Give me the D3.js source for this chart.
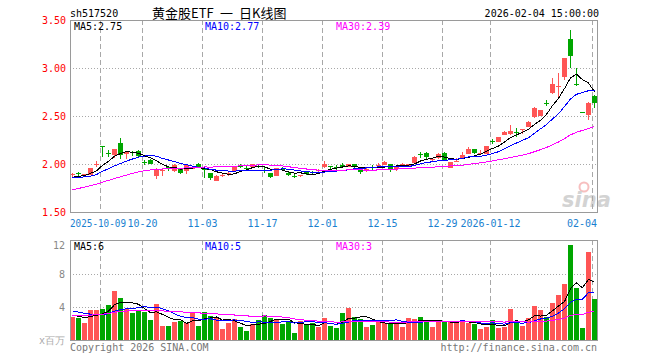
<!DOCTYPE html>
<html><head><meta charset="utf-8">
<script src="https://cdn.jsdelivr.net/npm/d3@7"></script>
<style>
html,body{margin:0;padding:0;background:#fff;}
svg{display:block;}
text{font-family:"DejaVu Sans Mono",monospace;font-size:10px;}
</style></head><body>
<svg id="c" width="660" height="360"></svg>
<script>
// ---------- data ----------
const dates = [
 "2025-09-24","2025-09-25","2025-09-26","2025-09-29","2025-09-30",
 "2025-10-09","2025-10-10","2025-10-13","2025-10-14","2025-10-15","2025-10-16","2025-10-17",
 "2025-10-20","2025-10-21","2025-10-22","2025-10-23","2025-10-24",
 "2025-10-27","2025-10-28","2025-10-29","2025-10-30","2025-10-31",
 "2025-11-03","2025-11-04","2025-11-05","2025-11-06","2025-11-07",
 "2025-11-10","2025-11-11","2025-11-12","2025-11-13","2025-11-14",
 "2025-11-17","2025-11-18","2025-11-19","2025-11-20","2025-11-21",
 "2025-11-24","2025-11-25","2025-11-26","2025-11-27","2025-11-28",
 "2025-12-01","2025-12-02","2025-12-03","2025-12-04","2025-12-05",
 "2025-12-08","2025-12-09","2025-12-10","2025-12-11","2025-12-12",
 "2025-12-15","2025-12-16","2025-12-17","2025-12-18","2025-12-19",
 "2025-12-22","2025-12-23","2025-12-24","2025-12-25","2025-12-26",
 "2025-12-29","2025-12-30","2025-12-31",
 "2026-01-05","2026-01-06","2026-01-07","2026-01-08","2026-01-09",
 "2026-01-12","2026-01-13","2026-01-14","2026-01-15","2026-01-16",
 "2026-01-19","2026-01-20","2026-01-21","2026-01-22","2026-01-23",
 "2026-01-26","2026-01-27","2026-01-28","2026-01-29","2026-01-30",
 "2026-02-02","2026-02-03","2026-02-04"
];
const open = [
 1.89,1.902,1.885,1.89,1.995,2.185,2.115,2.095,2.22,2.10,
 2.12,2.14,2.018,2.042,1.878,1.935,1.97,1.925,1.945,1.927,
 1.952,2.0,1.948,1.903,1.826,1.882,1.90,1.927,1.982,1.958,
 1.972,1.982,1.94,1.905,1.878,1.947,1.91,1.878,1.876,1.912,
 1.914,1.934,1.965,1.98,1.968,1.99,1.972,2.0,1.955,1.942,
 1.968,1.988,1.99,2.0,1.944,1.998,1.98,2.01,2.104,2.118,
 2.046,2.059,2.11,1.962,2.03,2.066,2.108,2.153,2.108,2.108,
 2.236,2.23,2.302,2.31,2.33,2.35,2.39,2.49,2.50,2.634,
 2.736,2.805,2.903,3.30,2.83,2.54,2.51,2.71
];
const high = [
 1.91,1.915,1.90,1.96,2.03,2.188,2.145,2.16,2.27,2.13,
 2.14,2.15,2.04,2.055,1.96,1.955,1.975,1.995,1.95,1.99,
 1.965,2.01,1.97,1.905,1.89,1.90,1.92,1.975,2.0,1.975,
 2.005,2.0,1.965,1.91,1.96,1.965,1.915,1.90,1.89,1.92,
 1.93,1.95,2.03,1.982,1.99,2.015,2.005,2.005,1.96,1.96,
 1.99,2.01,2.03,2.005,1.985,2.015,2.005,2.08,2.12,2.125,
 2.065,2.11,2.125,2.025,2.06,2.12,2.18,2.16,2.15,2.19,
 2.26,2.285,2.345,2.41,2.37,2.368,2.45,2.59,2.565,2.665,
 2.90,2.95,3.10,3.396,3.0,2.54,2.65,2.715
];
const low = [
 1.868,1.875,1.878,1.885,1.97,2.075,2.075,2.06,2.05,2.05,
 2.08,2.07,1.99,1.995,1.845,1.88,1.93,1.92,1.895,1.90,
 1.945,1.96,1.85,1.83,1.82,1.86,1.88,1.92,1.955,1.94,
 1.965,1.955,1.905,1.85,1.875,1.93,1.88,1.85,1.865,1.89,
 1.89,1.91,1.96,1.937,1.94,1.96,1.965,1.945,1.896,1.92,
 1.94,1.97,1.985,1.92,1.93,1.975,1.975,2.0,2.06,2.055,
 2.03,2.05,2.03,1.955,2.02,2.06,2.10,2.105,2.10,2.105,
 2.205,2.225,2.30,2.305,2.28,2.31,2.385,2.48,2.495,2.60,
 2.73,2.70,2.875,3.0,2.815,2.54,2.455,2.58
];
const close = [
 1.895,1.898,1.895,1.955,2.002,2.18,2.11,2.155,2.095,2.12,
 2.112,2.085,2.012,2.0,1.952,1.938,1.945,1.99,1.905,1.988,
 1.96,1.965,1.944,1.851,1.875,1.886,1.904,1.972,1.978,1.955,
 2.0,1.978,1.936,1.868,1.955,1.943,1.885,1.874,1.884,1.895,
 1.91,1.938,2.0,1.976,1.964,1.965,2.0,1.972,1.92,1.946,
 1.964,1.992,2.02,1.944,1.979,2.002,2.0,2.076,2.10,2.073,
 2.05,2.101,2.04,2.02,2.033,2.094,2.16,2.118,2.112,2.188,
 2.232,2.282,2.334,2.344,2.326,2.365,2.44,2.587,2.56,2.63,
 2.83,2.81,3.10,3.12,2.82,2.54,2.64,2.64
];
// volume, millions (x百万)
const volume = [
 2.8,2.76,2.1,3.7,3.7,3.76,4.3,6.0,5.1,3.76,
 3.36,3.56,3.44,2.48,4.4,1.76,1.76,2.24,2.4,2.08,
 3.28,1.76,3.44,2.96,2.68,1.4,2.12,2.56,1.64,1.16,
 1.96,2.48,3.08,2.76,2.56,2.0,2.4,0.92,2.4,1.88,
 2.08,1.64,2.72,1.76,1.56,3.32,3.92,2.8,2.6,1.64,
 1.88,2.32,2.08,2.0,2.2,1.64,2.72,2.6,2.84,2.36,
 1.64,2.48,2.24,2.36,2.12,2.28,2.12,2.04,1.4,1.64,
 2.48,1.52,1.68,3.8,2.36,1.76,2.72,4.16,3.68,2.8,
 4.52,5.48,6.84,11.48,6.28,1.52,10.64,5.0
];
// sessions before the visible window (estimated, only feed the moving averages)
const priorClose = [
 1.50,1.52,1.49,1.53,1.55,1.54,1.57,1.58,1.56,1.60,1.62,1.65,
 1.72,1.78,1.83,1.86,1.88,1.85,1.90,1.88,
 1.86,1.84,1.87,1.85,1.83,1.86,1.85,1.84,1.87
];
const priorVolume = [
 1.8,2.2,1.9,2.1,2.0,1.7,2.3,2.0,1.9,2.1,
 3.1,3.5,3.2,3.6,3.0,3.4,3.3,3.1,3.5,3.5,
 4.2,3.8,4.5,4.0,4.1,3.2,2.9,3.1,3.0
];
const priceTicks = [1.5, 2.0, 2.5, 3.0, 3.5];
const volTicks = [4, 8, 12];
const dateTicks = ["2025-10-09","2025-10-20","2025-11-03","2025-11-17","2025-12-01","2025-12-15","2025-12-29","2026-01-12","2026-02-04"];
const dateTickLabels = ["2025-10-09","10-20","11-03","11-17","12-01","12-15","12-29","2026-01-12","02-04"];
const maPeriods = [5, 10, 30];
const maColors = ["#000000", "#0000ff", "#ff00ff"];

// ---------- drawing ----------
const svg = d3.select("#c");
const RED = "#ff5555", GREEN = "#00a600", GRID = "#a8a8a8", BORDER = "#9a9a9a";
const n = dates.length;
const idx = d3.range(n);
const x = d3.scaleBand().domain(idx).range([70, 598]).padding(0);
const y = d3.scaleLinear().domain([1.5, 3.5]).range([212, 20]);
const yv = d3.scaleLinear().domain([0, 12]).range([340.5, 240.5]);
const up = i => close[i] > open[i];

function movingAvg(prior, vals, p) {
  const all = prior.concat(vals), off = prior.length;
  return vals.map((_, i) => d3.mean(all.slice(off + i - p + 1, off + i + 1)));
}
const pMA = maPeriods.map(p => movingAvg(priorClose, close, p));
const vMA = maPeriods.map(p => movingAvg(priorVolume, volume, p));

// header
svg.append("text").attr("x", 70).attr("y", 17).attr("fill", "#000").text("sh517520");
const title = svg.append("text").attr("y", 18).attr("fill", "#000")
  .style("font-family", "'Noto Sans CJK SC','Noto Sans',sans-serif").style("font-size", "13px");
title.append("tspan").attr("x", 152).text("黄金股ETF");
title.append("tspan").attr("x", 220).text("一");
title.append("tspan").attr("x", 239).text("日K线图");
svg.append("text").attr("x", 599).attr("y", 17).attr("text-anchor", "end").attr("fill", "#000")
  .text("2026-02-04 15:00:00");

// vertical dashed grid (both panels)
const tickIdx = dateTicks.map(d => dates.indexOf(d));
[[20, 212], [240, 340]].forEach(([t, b]) => {
  svg.append("g").selectAll("line").data(tickIdx).join("line")
    .attr("x1", i => x(i) + 0.5).attr("x2", i => x(i) + 0.5)
    .attr("y1", t).attr("y2", b)
    .attr("stroke", GRID).attr("stroke-dasharray", "5,3");
});
// horizontal dotted grid
svg.append("g").selectAll("line").data([2.0, 2.5, 3.0]).join("line")
  .attr("x1", 70).attr("x2", 597).attr("y1", d => Math.round(y(d)) + 0.5).attr("y2", d => Math.round(y(d)) + 0.5)
  .attr("stroke", GRID).attr("stroke-dasharray", "1,2");
svg.append("g").selectAll("line").data([4, 8]).join("line")
  .attr("x1", 70).attr("x2", 597).attr("y1", d => Math.round(yv(d)) + 0.5).attr("y2", d => Math.round(yv(d)) + 0.5)
  .attr("stroke", GRID).attr("stroke-dasharray", "1,2");

// watermark
const wm = svg.append("g").attr("opacity", 0.5);
wm.append("circle").attr("cx", 584).attr("cy", 187).attr("r", 4.5).attr("fill", "none").attr("stroke", "#f08080").attr("stroke-width", 2);
wm.append("text").attr("x", 562).attr("y", 207).attr("fill", "#a8a8a8")
  .style("font-family", "'DejaVu Sans',sans-serif").style("font-size", "21px")
  .style("font-style", "italic").style("font-weight", "bold").text("sina");

// candles
const cg = svg.append("g").attr("shape-rendering", "crispEdges");
cg.selectAll("line").data(idx).join("line")
  .attr("x1", i => x(i) + 2.5).attr("x2", i => x(i) + 2.5)
  .attr("y1", i => y(high[i])).attr("y2", i => y(low[i]))
  .attr("stroke", i => up(i) ? RED : GREEN);
cg.selectAll("rect").data(idx).join("rect")
  .attr("x", i => x(i)).attr("width", 5)
  .attr("y", i => y(Math.max(open[i], close[i])))
  .attr("height", i => Math.max(1, Math.abs(y(open[i]) - y(close[i]))))
  .attr("fill", i => up(i) ? RED : GREEN);

// volume bars
svg.append("g").attr("shape-rendering", "crispEdges").selectAll("rect").data(idx).join("rect")
  .attr("x", i => x(i)).attr("width", 5)
  .attr("y", i => yv(volume[i])).attr("height", i => yv(0) - yv(volume[i]))
  .attr("fill", i => up(i) ? RED : GREEN);

// MA lines
const lineP = d3.line().x((d, i) => x(i) + 2.5).y(d => y(d));
const lineV = d3.line().x((d, i) => x(i) + 2.5).y(d => yv(d));
pMA.forEach((s, k) => svg.append("path").attr("d", lineP(s)).attr("fill", "none")
  .attr("stroke", maColors[k]).attr("stroke-width", 1).attr("shape-rendering", "crispEdges"));
vMA.forEach((s, k) => svg.append("path").attr("d", lineV(s)).attr("fill", "none")
  .attr("stroke", maColors[k]).attr("stroke-width", 1).attr("shape-rendering", "crispEdges"));

// borders
svg.append("rect").attr("x", 70.5).attr("y", 20.5).attr("width", 527).attr("height", 192)
  .attr("fill", "none").attr("stroke", BORDER);
svg.append("rect").attr("x", 70.5).attr("y", 240.5).attr("width", 527).attr("height", 100)
  .attr("fill", "none").attr("stroke", BORDER);

// legends
const legX = [74, 205, 336];
maPeriods.forEach((p, k) => {
  svg.append("text").attr("x", legX[k]).attr("y", 30).attr("fill", maColors[k])
    .text("MA" + p + ":" + pMA[k][n - 1].toFixed(2));
  svg.append("text").attr("x", legX[k]).attr("y", 250).attr("fill", maColors[k])
    .text("MA" + p + ":" + Math.floor(vMA[k][n - 1]));
});

// price axis
const pa = svg.append("g").attr("transform", "translate(66,0)")
  .call(d3.axisLeft(y).tickValues(priceTicks).tickSize(0).tickPadding(0).tickFormat(d3.format(".2f")));
pa.select(".domain").remove();
pa.selectAll("text").attr("fill", "#ff0000").style("font-family", "'DejaVu Sans Mono',monospace").style("font-size", "10px");

// volume axis
const va = svg.append("g").attr("transform", "translate(65,0)")
  .call(d3.axisLeft(yv).tickValues(volTicks).tickSize(0).tickPadding(0).tickFormat(d3.format("d")));
va.select(".domain").remove();
va.selectAll("text").attr("fill", "#888").style("font-family", "'DejaVu Sans Mono',monospace").style("font-size", "10px");
va.selectAll(".tick").filter(d => d === 12).select("text").attr("dy", "0.75em");
svg.append("text").attr("x", 65).attr("y", 344).attr("text-anchor", "end").attr("fill", "#aaa")
  .style("font-size", "10px").text("x百万");

// date axis
const da = svg.append("g").attr("transform", "translate(-2.5,212)")
  .call(d3.axisBottom(x).tickValues(tickIdx).tickSize(0).tickPadding(8)
    .tickFormat(i => dateTickLabels[tickIdx.indexOf(i)]));
da.select(".domain").remove();
da.selectAll("text").attr("fill", "#1a7fd0").style("font-family", "'DejaVu Sans Mono',monospace").style("font-size", "10px");
const firstPos = x(tickIdx[0]) + x.bandwidth() / 2 - 2.5;
da.selectAll(".tick").filter(i => i === tickIdx[0]).select("text")
  .attr("text-anchor", "start").attr("x", 70 - firstPos)
  .attr("textLength", 56).attr("lengthAdjust", "spacingAndGlyphs");
da.selectAll(".tick").filter(i => i === n - 1).select("text")
  .attr("text-anchor", "end").attr("x", 597 - (x(n - 1) + x.bandwidth() / 2 - 2.5));

// footer
svg.append("text").attr("x", 70).attr("y", 351).attr("fill", "#777").text("Copyright 2026 SINA.COM");
svg.append("text").attr("x", 597).attr("y", 351).attr("text-anchor", "end").attr("fill", "#777").text("http://finance.sina.com.cn");
</script>
</body></html>
